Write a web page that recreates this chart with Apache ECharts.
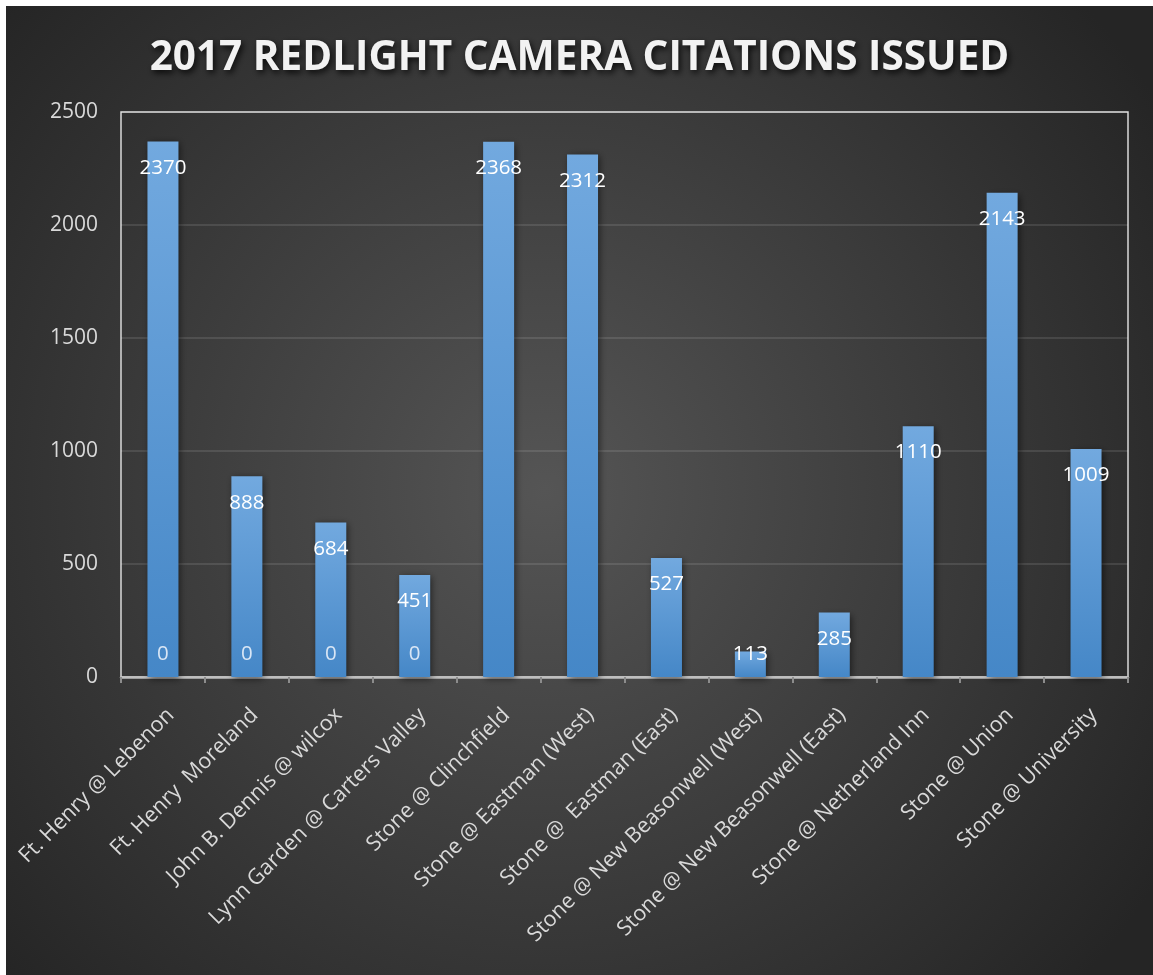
<!DOCTYPE html>
<html>
<head>
<meta charset="utf-8">
<script src="https://cdn.jsdelivr.net/npm/echarts@6/dist/echarts.min.js"></script>
<style>
  html, body { margin: 0; padding: 0; background: #ffffff; }
  #chart { position: absolute; left: 6px; top: 6px; width: 1147px; height: 969px; }
</style>
</head>
<body>
<div id="chart"></div>
<script>
const titleText = '2017 REDLIGHT CAMERA CITATIONS ISSUED';
const categories = [
  'Ft. Henry @ Lebenon',
  'Ft. Henry  Moreland',
  'John B. Dennis @ wilcox',
  'Lynn Garden @ Carters Valley',
  'Stone @ Clinchfield',
  'Stone @ Eastman (West)',
  'Stone @  Eastman (East)',
  'Stone @ New Beasonwell (West)',
  'Stone @ New Beasonwell (East)',
  'Stone @ Netherland Inn',
  'Stone @ Union',
  'Stone @ University'
];
const citations = [2370, 888, 684, 451, 2368, 2312, 527, 113, 285, 1110, 2143, 1009];
const zeroValues = [0, 0, 0, 0, null, null, null, null, null, null, null, null];
const yTicks = [0, 500, 1000, 1500, 2000, 2500];

const FONT = 'Open Sans';
const chart = echarts.init(document.getElementById('chart'));

const barData = citations.map(v => {
  if (v < 200) {
    return { value: v, label: { position: 'top', distance: -13 } };
  }
  return v;
});

chart.setOption({
  animation: false,
  backgroundColor: {
    type: 'radial', x: 0.47, y: 0.5, r: 0.75,
    colorStops: [
      { offset: 0, color: '#555555' },
      { offset: 1, color: '#252525' }
    ]
  },
  title: {
    text: titleText,
    left: 'center',
    top: 27,
    textStyle: {
      fontFamily: FONT,
      fontWeight: 'bold',
      fontSize: 40.5,
      color: '#f2f2f2',
      textShadowColor: 'rgba(0,0,0,0.8)',
      textShadowBlur: 6,
      textShadowOffsetX: 2,
      textShadowOffsetY: 3
    }
  },
  grid: {
    left: 115, top: 106, right: 25, bottom: 298,
    show: true,
    borderColor: '#d9d9d9',
    borderWidth: 1.5,
    backgroundColor: 'transparent'
  },
  xAxis: {
    type: 'category',
    data: categories,
    boundaryGap: true,
    axisLine: { show: true, lineStyle: { color: '#bfbfbf', width: 2.5 } },
    axisTick: { show: true, length: 6, lineStyle: { color: '#8c8c8c', width: 2 } },
    axisLabel: {
      rotate: 45,
      interval: 0,
      margin: 27,
      verticalAlign: 'top',
      fontFamily: FONT,
      fontSize: 21.5,
      color: '#d9d9d9'
    },
    splitLine: { show: false }
  },
  yAxis: {
    type: 'value',
    min: 0, max: 2500, interval: 500,
    axisLine: { show: false },
    axisTick: { show: false },
    axisLabel: {
      margin: 23,
      fontFamily: FONT,
      fontSize: 21,
      color: '#d9d9d9',
      formatter: v => (yTicks.includes(v) ? String(v) : '')
    },
    splitLine: { show: true, lineStyle: { color: 'rgba(255,255,255,0.14)', width: 1.5 } }
  },
  series: [
    {
      name: '2017',
      type: 'bar',
      data: barData,
      barWidth: 31,
      itemStyle: {
        color: {
          type: 'linear', x: 0, y: 0, x2: 0, y2: 1,
          colorStops: [
            { offset: 0, color: '#72a9df' },
            { offset: 1, color: '#4587c7' }
          ]
        },
        shadowColor: 'rgba(0,0,0,0.55)',
        shadowBlur: 7,
        shadowOffsetX: 2,
        shadowOffsetY: 2
      },
      label: {
        show: true,
        position: 'insideTop',
        distance: 16,
        fontFamily: FONT,
        fontSize: 20.5,
        color: '#ffffff'
      },
      z: 2
    },
    {
      name: 'zero',
      type: 'bar',
      data: zeroValues,
      barWidth: 31,
      barGap: '-100%',
      itemStyle: { color: 'transparent' },
      label: {
        show: true,
        position: 'insideBottom',
        distance: 12,
        fontFamily: FONT,
        fontSize: 20.5,
        color: '#d9e6f5'
      },
      z: 3
    }
  ]
});
</script>
</body>
</html>
